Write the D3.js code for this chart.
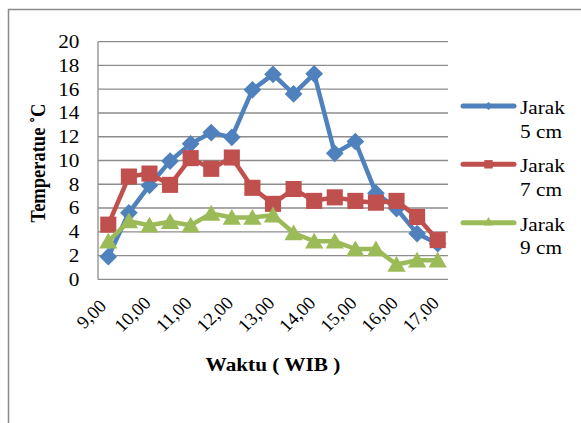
<!DOCTYPE html>
<html><head><meta charset="utf-8">
<script src="https://cdn.jsdelivr.net/npm/d3@7"></script>
<style>body{margin:0;background:#fff}svg{display:block}svg text{font-family:"Liberation Serif","Times New Roman",Times,serif}</style>
</head><body><svg id="c" width="581" height="423"></svg>
<script>
const categories = ["9,00","9,30","10,00","10,30","11,00","11,30","12,00","12,30","13,00","13,30","14,00","14,30","15,00","15,30","16,00","16,30","17,00"];
const tickLabels = ["9,00","10,00","11,00","12,00","13,00","14,00","15,00","16,00","17,00"];
const jarak5 = [1.9,5.6,7.9,9.95,11.4,12.35,11.95,15.95,17.25,15.6,17.3,10.6,11.6,7.25,5.95,3.85,3.0];
const jarak7 = [4.6,8.65,8.9,7.95,10.2,9.3,10.25,7.7,6.35,7.6,6.6,6.9,6.6,6.45,6.6,5.25,3.3];
const jarak9 = [3.2,4.9,4.55,4.85,4.55,5.55,5.2,5.2,5.4,3.9,3.2,3.2,2.55,2.55,1.25,1.6,1.6];
const seriesNames = [["Jarak","5 cm"],["Jarak","7 cm"],["Jarak","9 cm"]];
const yTicks = [0,2,4,6,8,10,12,14,16,18,20];

const FONT = "'Liberation Serif','Times New Roman',Times,serif";
const SX = 1.15, FS = 18.5;
const svg = d3.select("#c");
const L=98, R=448, T=41.7, B=279.3;
const x = d3.scalePoint().domain(categories).range([L,R]).padding(0.5);
const y = d3.scaleLinear().domain([0,20]).range([B,T]);
const colors = ["#4F81BD","#C0504D","#9BBB59"];
const shapes = [d3.symbolDiamond2, d3.symbolSquare2, d3.symbolTriangle2];

function txt(parent, str, px, py, opts={}) {
  const sx = opts.sx || SX;
  const t = parent.append("text")
    .attr("transform", `translate(${px},${py}) scale(${sx},1)` + (opts.rot ? ` rotate(${opts.rot})` : ""))
    .attr("font-size", opts.size || FS).attr("font-family", FONT).attr("fill", "#000")
    .attr("text-anchor", opts.anchor || "start").text(str);
  if (opts.dy) t.attr("dy", opts.dy);
  if (opts.bold) t.attr("font-weight", "bold");
  return t;
}

// outer frame
svg.append("path").attr("d","M8.5,423 V9.5 H581").attr("fill","none").attr("stroke","#8a8a8a").attr("stroke-width",1.5);

// gridlines
svg.append("g").selectAll("line").data(yTicks).join("line")
  .attr("x1",L).attr("x2",R).attr("y1",d=>y(d)).attr("y2",d=>y(d))
  .attr("stroke","#8c8c8c").attr("stroke-width",1.3);
svg.append("line").attr("x1",L).attr("x2",L).attr("y1",T).attr("y2",B).attr("stroke","#8c8c8c").attr("stroke-width",1.3);

// y axis labels
const gy = svg.append("g");
yTicks.forEach(v => txt(gy, String(v), 79.5, y(v), {anchor:"end", dy:"0.34em"}));

// x axis labels
const gx = svg.append("g");
tickLabels.forEach(d => txt(gx, d, x(d)-17, 314, {anchor:"middle", dy:"0.34em", rot:-45, sx:1.05, size:18}));

// titles
txt(svg, "Temperatue ˚C", 38, 163, {anchor:"middle", rot:-90, bold:true, dy:"0.34em"});
txt(svg, "Waktu ( WIB )", 273, 371, {anchor:"middle", bold:true});

// series
const data = [jarak5,jarak7,jarak9];
const line = d3.line().x((d,i)=>x(categories[i])).y(d=>y(d));
const sizes = [200,330,240];
data.forEach((vals,k)=>{
  const g = svg.append("g");
  g.append("path").attr("d",line(vals)).attr("fill","none").attr("stroke",colors[k]).attr("stroke-width",4.5).attr("stroke-linejoin","round");
  g.selectAll("path.m").data(vals).join("path").attr("class","m")
    .attr("transform",(d,i)=>`translate(${x(categories[i])},${y(d) + (k===2?2:0)})`)
    .attr("d",d3.symbol().type(shapes[k]).size(sizes[k])).attr("fill",colors[k]);
});

// legend
const legY = [106,164.3,222.7];
const leg = svg.append("g");
seriesNames.forEach((nm,k)=>{
  const g = leg.append("g").attr("transform",`translate(0,${legY[k]})`);
  g.append("line").attr("x1",463).attr("x2",514).attr("stroke",colors[k]).attr("stroke-width",5).attr("stroke-linecap","round");
  g.append("path").attr("transform","translate(488.5,0)").attr("d",d3.symbol().type(shapes[k]).size([40,90,70][k])).attr("fill",colors[k]);
  txt(g, nm[0], 520, 8);
  txt(g, nm[1], 520, 31.5);
});
</script></body></html>
